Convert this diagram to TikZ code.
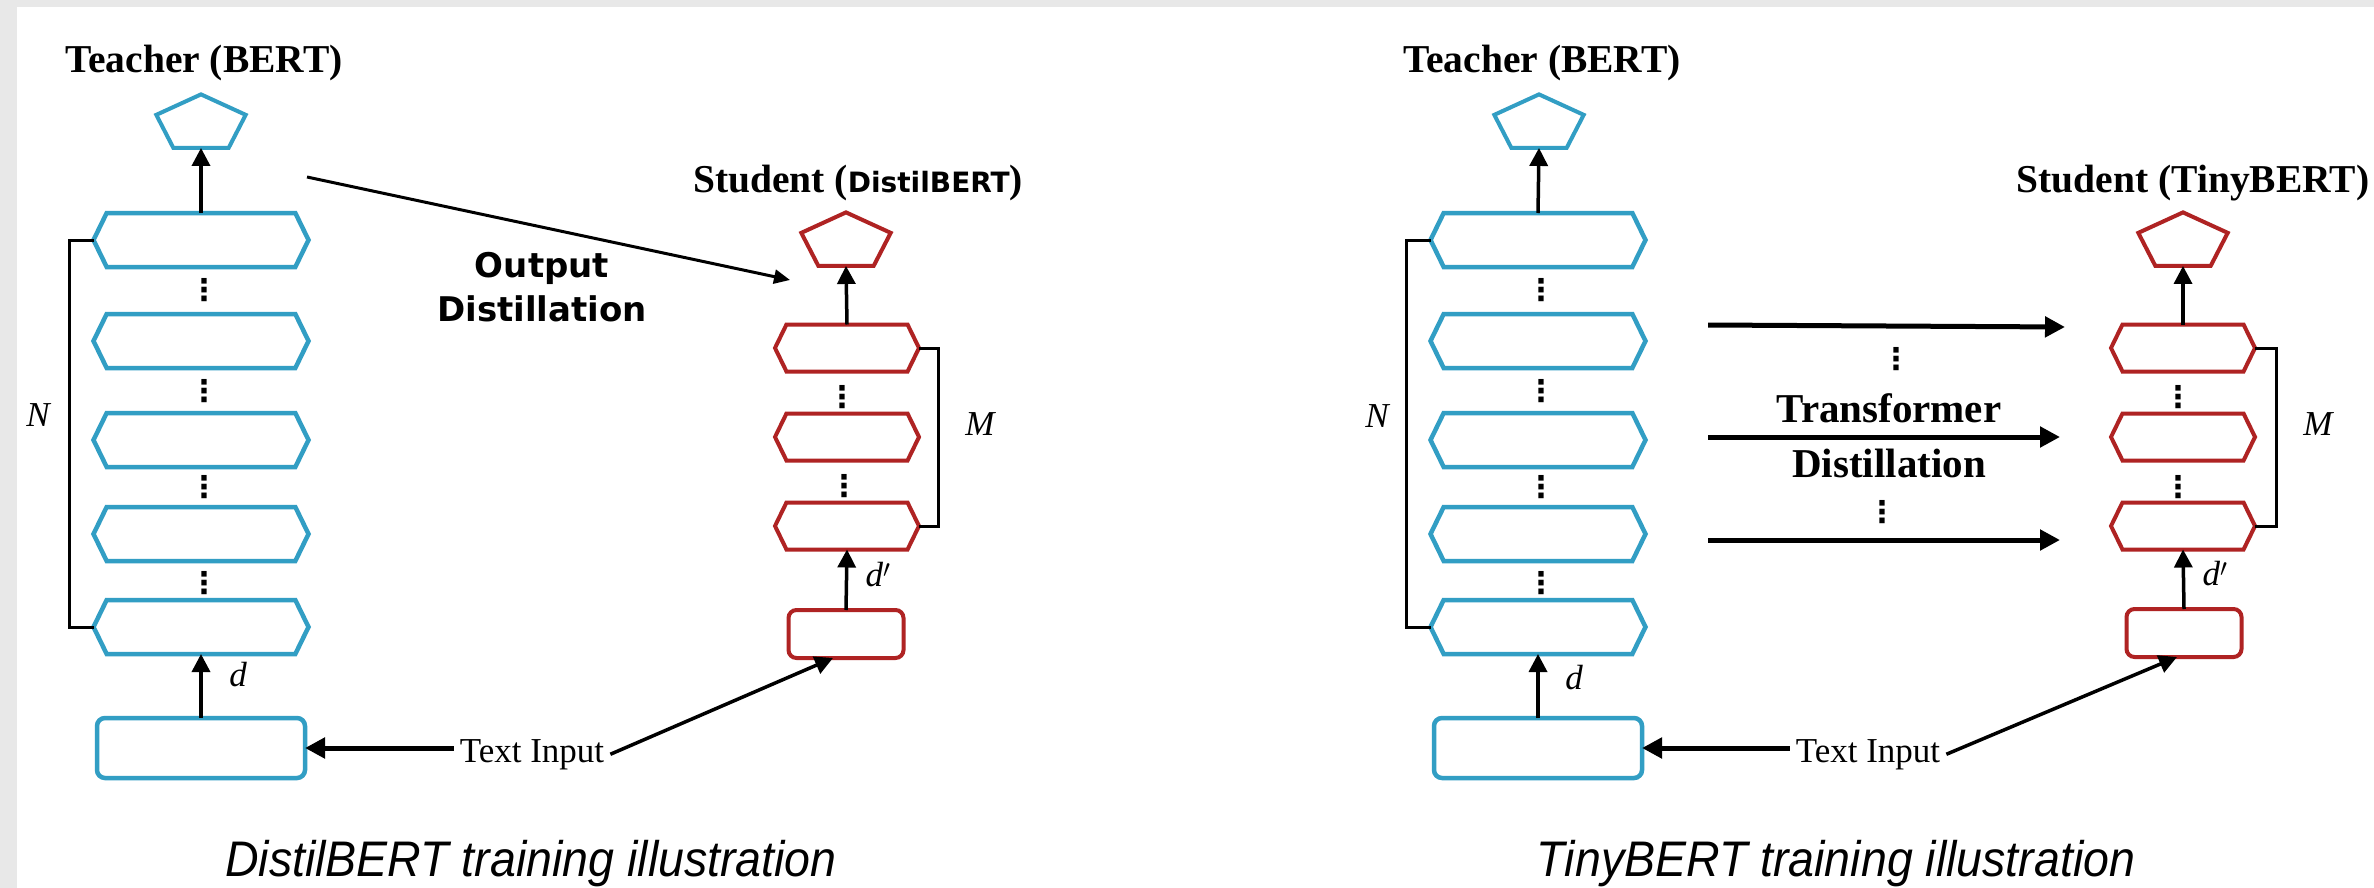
\documentclass[tikz,border=0pt]{standalone}
\usepackage{fontspec}
\setmainfont{Liberation Serif}
\newfontfamily\dvs{DejaVu Sans}
\newfontfamily\lsans[FakeStretch=0.93]{Liberation Sans}
\usetikzlibrary{shapes.symbols,shapes.geometric,arrows.meta,calc}
\definecolor{tblue}{RGB}{50,158,196}
\definecolor{sred}{RGB}{175,35,35}
\definecolor{bggray}{RGB}{232,232,232}
\begin{document}
\begin{tikzpicture}[x=1pt,y=-1pt,
  hexT/.style={signal, signal to=east and west, signal pointer angle=128, draw=tblue, line width=4.5pt, fill=white, minimum width=215pt, minimum height=54pt, inner sep=0pt, outer sep=0pt},
  hexS/.style={hexT, draw=sred, line width=4pt, minimum width=144pt, minimum height=47pt},
  pentT/.style={regular polygon, regular polygon sides=5, draw=tblue, line width=4pt, minimum size=94pt, inner sep=0pt, outer sep=0pt, yscale=0.63, transform shape},
  pentS/.style={pentT, draw=sred},
  boxT/.style={rectangle, rounded corners=8pt, draw=tblue, line width=4.5pt, minimum width=208pt, minimum height=60pt, inner sep=0pt, outer sep=0pt},
  boxS/.style={boxT, draw=sred, line width=4pt, minimum width=115pt, minimum height=48pt},
  head/.style={font=\fontsize{39.5}{44}\selectfont\bfseries, inner sep=0pt, anchor=base},
  lab/.style={font=\fontsize{35}{40}\selectfont\itshape, inner sep=0pt},
  vdot/.style={font=\dvs\bfseries\fontsize{30}{30}\selectfont, inner sep=0pt},
  tinput/.style={font=\fontsize{35}{40}\selectfont, inner sep=6pt, anchor=base},
  arr/.style={-{Triangle[length=18pt,width=18pt]}, line width=3.5pt},
  tarr/.style={-{Triangle[length=20pt,width=20pt]}, line width=5pt},
  brk/.style={line width=3pt},
  capt/.style={font=\lsans\itshape\fontsize{50}{56}\selectfont, inner sep=0pt, anchor=base}
]
\useasboundingbox (0,0) rectangle (2374,888);
\fill[bggray] (0,0) rectangle (2374,888);
\fill[white] (17,7) rectangle (2374,888);

% ================= LEFT: DistilBERT =================
\node[head] (hT1) at (204,73) {Teacher (BERT)};
\node[pentT] (tp1) at (201,124) {};
\node[hexT] (ta1) at (201,240) {};
\node[hexT] (ta2) at (201,341) {};
\node[hexT] (ta3) at (201,440) {};
\node[hexT] (ta4) at (201,534) {};
\node[hexT] (ta5) at (201,627) {};
\node[boxT] (tin1) at (201,748) {};
\node[vdot] (dl1) at (204,290) {⋮};
\node[vdot] (dl2) at (204,391) {⋮};
\node[vdot] (dl3) at (204,487) {⋮};
\node[vdot] (dl4) at (204,583) {⋮};
\draw[arr] (ta1.north) -- (tp1.south);
\draw[arr] (tin1.north) -- (ta5.south);
\draw[brk] (ta1.west) -- ++(-24,0) |- (ta5.west);
\node[lab] (N1) at (38,415) {N};
\node[lab] (d1) at (238,675) {d};

\node[head] (hS1) at (858,192) {Student ({\dvs\fontsize{28}{30}\selectfont\bfseries DistilBERT})};
\node[pentS] (sp1) at (846,242) {};
\node[hexS] (sa1) at (847,348) {};
\node[hexS] (sa2) at (847,437) {};
\node[hexS] (sa3) at (847,526) {};
\node[boxS] (sin1) at (846,634) {};
\node[vdot] (ds1) at (842,397) {⋮};
\node[vdot] (ds2) at (844,486) {⋮};
\draw[arr] (sa1.north) -- (sp1.south);
\draw[arr] (sin1.north) -- (sa3.south);
\draw[brk] (sa1.east) -- ++(19,0) |- (sa3.east);
\node[lab] (M1) at (980,424) {M};
\node[lab] (dp1) at (878,575) {d$'$};

\node[font=\dvs\bfseries\fontsize{34}{44}\selectfont, align=center, inner sep=0pt] (od) at (542,287) {Output\\Distillation};
\coordinate (ods) at (307,177);
\coordinate (ode) at (790,280);
\draw[-{Triangle[length=16pt,width=14pt]}, line width=3pt] (ods) -- (ode);

\node[tinput] (ti1) at (532,762) {Text Input};
\draw[tarr] (ti1.west |- tin1.east) -- (tin1.east);
\draw[arr] (ti1.east) -- ([xshift=-13pt]sin1.south);

\node[capt] (c1) at (531,876) {DistilBERT training illustration};

% ================= RIGHT: TinyBERT =================
\node[head] (hT2) at (1542,73) {Teacher (BERT)};
\node[pentT] (tp2) at (1539,124) {};
\node[hexT] (tb1) at (1538,240) {};
\node[hexT] (tb2) at (1538,341) {};
\node[hexT] (tb3) at (1538,440) {};
\node[hexT] (tb4) at (1538,534) {};
\node[hexT] (tb5) at (1538,627) {};
\node[boxT] (tin2) at (1538,748) {};
\node[vdot] (dr1) at (1541,290) {⋮};
\node[vdot] (dr2) at (1541,391) {⋮};
\node[vdot] (dr3) at (1541,487) {⋮};
\node[vdot] (dr4) at (1541,583) {⋮};
\draw[arr] (tb1.north) -- (tp2.south);
\draw[arr] (tin2.north) -- (tb5.south);
\draw[brk] (tb1.west) -- ++(-24,0) |- (tb5.west);
\node[lab] (N2) at (1377,416) {N};
\node[lab] (d2) at (1574,678) {d};

\node[head] (hS2) at (2193,192) {Student (TinyBERT)};
\node[pentS] (sp2) at (2183,242) {};
\node[hexS] (sb1) at (2183,348) {};
\node[hexS] (sb2) at (2183,437) {};
\node[hexS] (sb3) at (2183,526) {};
\node[boxS] (sin2) at (2184,633) {};
\node[vdot] (dt1) at (2178,397) {⋮};
\node[vdot] (dt2) at (2178,487) {⋮};
\draw[arr] (sb1.north) -- (sp2.south);
\draw[arr] (sin2.north) -- (sb3.south);
\draw[brk] (sb1.east) -- ++(21,0) |- (sb3.east);
\node[lab] (M2) at (2318,424) {M};
\node[lab] (dp2) at (2215,574) {d$'$};

\node[font=\bfseries\fontsize{41}{55}\selectfont, align=center, inner sep=0pt] (td) at (1889,436) {Transformer\\Distillation};
\node[vdot] (dm1) at (1896,359) {⋮};
\node[vdot] (dm2) at (1882,512) {⋮};
\coordinate (a1s) at (1708,325); \coordinate (a1e) at (2065,327);
\coordinate (a2s) at (1708,437); \coordinate (a2e) at (2060,437);
\coordinate (a3s) at (1708,540); \coordinate (a3e) at (2060,540);
\draw[tarr] (a1s) -- (a1e);
\draw[tarr] (a2s) -- (a2e);
\draw[tarr] (a3s) -- (a3e);

\node[tinput] (ti2) at (1868,762) {Text Input};
\draw[tarr] (ti2.west |- tin2.east) -- (tin2.east);
\draw[arr] (ti2.east) -- ([xshift=-7pt]sin2.south);

\node[capt] (c2) at (1836,876) {TinyBERT training illustration};
\end{tikzpicture}
\end{document}
